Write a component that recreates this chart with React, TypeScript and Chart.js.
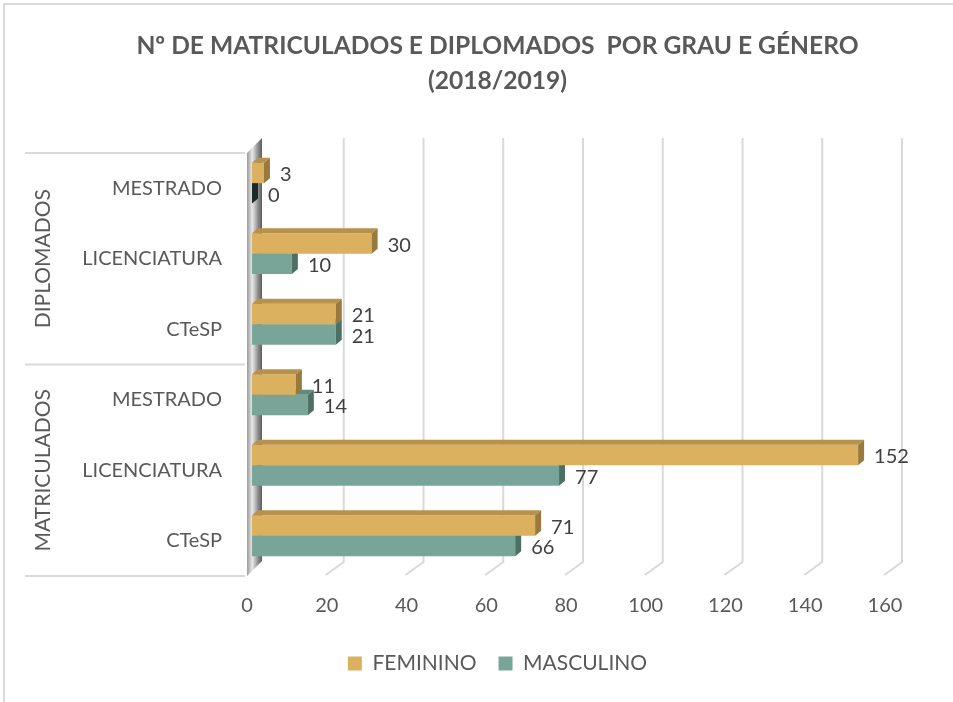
import React, { useEffect, useRef } from 'react';
import { Chart, registerables } from 'chart.js';

Chart.register(...registerables);

const titleLines = ['Nº DE MATRICULADOS E DIPLOMADOS  POR GRAU E GÉNERO', '(2018/2019)'];
const groups = ['DIPLOMADOS', 'MATRICULADOS'];
const groupSizes = [3, 3];
const categories = ['MESTRADO', 'LICENCIATURA', 'CTeSP', 'MESTRADO', 'LICENCIATURA', 'CTeSP'];
const seriesNames = ['FEMININO', 'MASCULINO'];
const feminino = [3, 30, 21, 11, 152, 71];
const masculino = [0, 10, 21, 14, 77, 66];
const xMin = 0;
const xMax = 160;
const xStep = 20;

const FONT = 'Lato, "Open Sans", sans-serif';
const TEXT = '#595959';
const GRID = '#d9d9d9';

const faceColors = [
  { front: '#dbb05e', top: '#b8914a', side: '#9a7a3c', zero: '#3a2e18' },
  { front: '#78a597', top: '#5f8a7c', side: '#4d7065', zero: '#1c2b27' },
];

const PAD_LEFT = 42;

const threeD = {
  id: 'threeD',
  beforeDraw(chart: any) {
    const { ctx, width, height } = chart;
    ctx.save();
    ctx.fillStyle = '#ffffff';
    ctx.fillRect(0, 0, width, height);
    ctx.strokeStyle = GRID;
    ctx.lineWidth = 2;
    ctx.strokeRect(4, 4, width + 10, height + 10);
    ctx.restore();
  },
  beforeDatasetsDraw(chart: any) {
    const { ctx, chartArea, scales } = chart;
    const xs = scales.x;
    const { top, bottom, left } = chartArea;
    ctx.save();
    // back wall gridlines with floor diagonals
    ctx.strokeStyle = GRID;
    ctx.lineWidth = 2;
    for (let v = xMin + xStep; v <= xMax; v += xStep) {
      const x = xs.getPixelForValue(v);
      ctx.beginPath();
      ctx.moveTo(x + 12, top - 10);
      ctx.lineTo(x + 12, bottom - 9);
      ctx.lineTo(x - 6, bottom + 4);
      ctx.stroke();
    }
    // left side wall
    const g = ctx.createLinearGradient(left - 5, 0, left + 10, 0);
    g.addColorStop(0, '#9a9a9a');
    g.addColorStop(0.35, '#e8e8e8');
    g.addColorStop(0.75, '#8a8a8a');
    g.addColorStop(1, '#5c5c5c');
    ctx.fillStyle = g;
    ctx.beginPath();
    ctx.moveTo(left - 5, top + 5);
    ctx.lineTo(left + 10, top - 10);
    ctx.lineTo(left + 10, bottom - 10);
    ctx.lineTo(left - 5, bottom + 5);
    ctx.closePath();
    ctx.fill();
    // category group dividers and group labels
    const band = (bottom - top) / categories.length;
    ctx.strokeStyle = GRID;
    ctx.lineWidth = 2;
    let start = 0;
    const lineY = (i: number) => top + 5 + band * i;
    ctx.beginPath();
    ctx.moveTo(25, lineY(0));
    ctx.lineTo(left - 7, lineY(0));
    ctx.stroke();
    groups.forEach((name, gi) => {
      const end = start + groupSizes[gi];
      ctx.beginPath();
      ctx.moveTo(25, lineY(end));
      ctx.lineTo(left - 7, lineY(end));
      ctx.stroke();
      const cy = (lineY(start) + lineY(end)) / 2;
      ctx.save();
      ctx.translate(43, cy);
      ctx.rotate(-Math.PI / 2);
      ctx.fillStyle = TEXT;
      ctx.font = `21px ${FONT}`;
      ctx.textAlign = 'center';
      ctx.textBaseline = 'middle';
      ctx.fillText(name, 0, 0);
      ctx.restore();
      start = end;
    });
    ctx.restore();
  },
  afterDatasetDraw(chart: any, args: any) {
    const { ctx } = chart;
    const c = faceColors[args.index];
    const dx = 6;
    const dy = 5;
    ctx.save();
    args.meta.data.forEach((bar: any) => {
      const x0 = bar.base;
      const x1 = bar.x;
      const yT = bar.y - bar.height / 2;
      const yB = bar.y + bar.height / 2;
      ctx.fillStyle = c.top;
      ctx.beginPath();
      ctx.moveTo(x0, yT);
      ctx.lineTo(x1, yT);
      ctx.lineTo(x1 + dx, yT - dy);
      ctx.lineTo(x0 + dx, yT - dy);
      ctx.closePath();
      ctx.fill();
      ctx.fillStyle = Math.abs(x1 - x0) < 1 ? c.zero : c.side;
      ctx.beginPath();
      ctx.moveTo(x1, yT);
      ctx.lineTo(x1 + dx, yT - dy);
      ctx.lineTo(x1 + dx, yB - dy);
      ctx.lineTo(x1, yB);
      ctx.closePath();
      ctx.fill();
    });
    ctx.restore();
  },
  afterDatasetsDraw(chart: any) {
    const { ctx } = chart;
    ctx.save();
    ctx.fillStyle = '#404040';
    ctx.font = `20px ${FONT}`;
    ctx.textAlign = 'left';
    ctx.textBaseline = 'middle';
    chart.data.datasets.forEach((ds: any, di: number) => {
      const meta = chart.getDatasetMeta(di);
      meta.data.forEach((bar: any, i: number) => {
        ctx.fillText(String(ds.data[i]), bar.x + 16, bar.y + 2);
      });
    });
    ctx.restore();
  },
};

export default function App() {
  const ref = useRef<HTMLCanvasElement>(null);
  useEffect(() => {
    if (!ref.current) return;
    const chart = new Chart(ref.current, {
      type: 'bar',
      data: {
        labels: categories,
        datasets: [
          { label: seriesNames[0], data: feminino, backgroundColor: faceColors[0].front, borderWidth: 0 },
          { label: seriesNames[1], data: masculino, backgroundColor: faceColors[1].front, borderWidth: 0 },
        ],
      },
      options: {
        indexAxis: 'y',
        responsive: false,
        animation: false,
        events: [],
        datasets: { bar: { barPercentage: 1, categoryPercentage: 0.58 } },
        layout: { padding: { left: PAD_LEFT, right: 0, top: 0, bottom: 18 } },
        scales: {
          x: {
            min: xMin,
            max: xMax,
            grid: { display: false, drawTicks: false, tickLength: 0 },
            border: { display: false },
            ticks: { stepSize: xStep, color: TEXT, font: { family: FONT, size: 20 }, padding: 23, labelOffset: -5 },
            afterFit: (s: any) => { s.height = 60; },
          },
          y: {
            grid: { display: false, drawTicks: false, tickLength: 0 },
            border: { display: false },
            ticks: { color: TEXT, font: { family: FONT, size: 20 }, padding: 30, labelOffset: 5, autoSkip: false },
            afterFit: (s: any) => { s.width = 252 - PAD_LEFT; },
          },
          yRight: {
            type: 'linear',
            position: 'right',
            display: true,
            grid: { display: false, drawTicks: false },
            border: { display: false },
            ticks: { display: false },
            afterFit: (s: any) => { s.width = 63; },
          },
        },
        plugins: {
          title: {
            display: true,
            text: titleLines,
            color: TEXT,
            font: { family: FONT, size: 24.6, weight: 'bold', lineHeight: 1.4 },
            padding: { top: 29, bottom: 50 },
          },
          legend: {
            position: 'bottom',
            labels: {
              color: TEXT,
              font: { family: FONT, size: 21 },
              boxWidth: 14,
              boxHeight: 14,
              padding: 22,
            },
          },
          tooltip: { enabled: false },
        },
      },
      plugins: [threeD],
    });
    return () => chart.destroy();
  }, []);
  return (
    <div style={{ position: 'absolute', left: 0, top: 0, width: 953, height: 702 }}>
      <canvas ref={ref} width={953} height={702} />
    </div>
  );
}
